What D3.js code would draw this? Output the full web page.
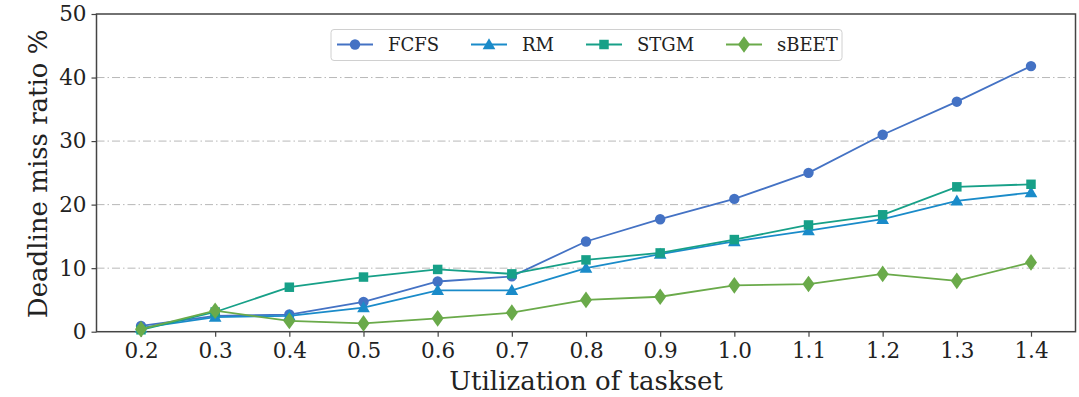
<!DOCTYPE html>
<html>
<head>
<meta charset="utf-8">
<script src="https://cdn.jsdelivr.net/npm/d3@7/dist/d3.min.js"></script>
<style>
  html, body { margin: 0; padding: 0; background: #fff; }
  svg { display: block; }
  text { font-family: "DejaVu Serif", serif; fill: #222; }
</style>
</head>
<body>
<svg id="chart" width="1079" height="397"></svg>
<script>
// Utilization levels of the tasksets (x axis)
const utilization = [0.2, 0.3, 0.4, 0.5, 0.6, 0.7, 0.8, 0.9, 1.0, 1.1, 1.2, 1.3, 1.4];
const xTickLabels = ["0.2", "0.3", "0.4", "0.5", "0.6", "0.7", "0.8", "0.9", "1.0", "1.1", "1.2", "1.3", "1.4"];
const yTicks = [0, 10, 20, 30, 40, 50];

// Deadline miss ratio (%) per scheduler
const fcfs  = [0.9, 2.5, 2.7, 4.7, 7.9, 8.7, 14.2, 17.7, 20.9, 25.0, 31.0, 36.2, 41.8];
const rm    = [0.6, 2.3, 2.5, 3.8, 6.5, 6.5, 10.0, 12.2, 14.2, 15.9, 17.7, 20.6, 21.9];
const stgm  = [0.3, 3.1, 7.0, 8.6, 9.8, 9.1, 11.3, 12.4, 14.5, 16.8, 18.4, 22.8, 23.2];
const sbeet = [0.4, 3.3, 1.7, 1.3, 2.1, 3.0, 5.0, 5.5, 7.3, 7.5, 9.1, 8.0, 10.9];

const seriesNames = ["FCFS", "RM", "STGM", "sBEET"];
const seriesValues = [fcfs, rm, stgm, sbeet];
const colors = ["#4472c4", "#1a8bc9", "#17a088", "#6aaa4a"];
const markers = ["circle", "triangle", "square", "diamond"];

const svg = d3.select("#chart");
const margin = { left: 96.5, right: 1075.5, top: 14, bottom: 331.7 };

const x = d3.scaleLinear().domain([0.14, 1.46]).range([margin.left, margin.right]);
const y = d3.scaleLinear().domain([0, 50]).range([margin.bottom, margin.top]);

// Horizontal dash-dot grid
svg.append("g")
  .selectAll("line")
  .data([10, 20, 30, 40])
  .join("line")
  .attr("x1", margin.left).attr("x2", margin.right)
  .attr("y1", d => y(d)).attr("y2", d => y(d))
  .attr("stroke", "#b8b8b8")
  .attr("stroke-width", 1)
  .attr("stroke-dasharray", "8,3,1.5,3");

// Axes
const xAxis = d3.axisBottom(x)
  .tickValues(utilization)
  .tickFormat((d, i) => xTickLabels[i])
  .tickSize(5).tickPadding(6);
const yAxis = d3.axisLeft(y)
  .tickValues(yTicks)
  .tickFormat(d3.format("d"))
  .tickSize(5).tickPadding(5);

const gx = svg.append("g").attr("transform", `translate(0,${margin.bottom})`).call(xAxis);
const gy = svg.append("g").attr("transform", `translate(${margin.left},0)`).call(yAxis);
[gx, gy].forEach(g => {
  g.select(".domain").remove();
  g.selectAll(".tick line").attr("stroke", "#444").attr("stroke-width", 1.2);
  g.selectAll(".tick text")
    .attr("font-family", "DejaVu Serif, serif")
    .attr("font-size", 21.5)
    .attr("fill", "#222");
});

// Plot frame
svg.append("rect")
  .attr("x", margin.left).attr("y", margin.top)
  .attr("width", margin.right - margin.left)
  .attr("height", margin.bottom - margin.top)
  .attr("fill", "none")
  .attr("stroke", "#444")
  .attr("stroke-width", 1.5);

// Axis titles
svg.append("text")
  .attr("x", (margin.left + margin.right) / 2)
  .attr("y", 390)
  .attr("text-anchor", "middle")
  .attr("font-size", 26)
  .text("Utilization of taskset");

svg.append("text")
  .attr("transform", `translate(47,${(margin.top + margin.bottom) / 2 + 1}) rotate(-90)`)
  .attr("text-anchor", "middle")
  .attr("font-size", 26)
  .text("Deadline miss ratio %");

// Marker shapes
function markerPath(kind, size) {
  const sym = {
    circle: d3.symbolCircle,
    triangle: d3.symbolTriangle,
    square: d3.symbolSquare,
    diamond: d3.symbolDiamond
  }[kind];
  return d3.symbol().type(sym).size(size)();
}
const markerSize = { circle: 85, triangle: 70, square: 90, diamond: 80 };

const line = d3.line().x((d, i) => x(utilization[i])).y(d => y(d));

seriesValues.forEach((vals, s) => {
  const g = svg.append("g");
  g.append("path")
    .datum(vals)
    .attr("d", line)
    .attr("fill", "none")
    .attr("stroke", colors[s])
    .attr("stroke-width", 1.8);
  g.selectAll("path.m")
    .data(vals)
    .join("path")
    .attr("class", "m")
    .attr("d", markerPath(markers[s], markerSize[markers[s]]))
    .attr("transform", (d, i) => {
      const dx = x(utilization[i]);
      const dy = y(d) + (markers[s] === "triangle" ? 1 : 0);
      return markers[s] === "diamond"
        ? `translate(${dx},${dy}) scale(1.25,1)`
        : `translate(${dx},${dy})`;
    })
    .attr("fill", colors[s]);
});

// Legend
const legend = svg.append("g");
legend.append("rect")
  .attr("x", 331).attr("y", 29.5)
  .attr("width", 511).attr("height", 31)
  .attr("rx", 3)
  .attr("fill", "#fff")
  .attr("fill-opacity", 0.85)
  .attr("stroke", "#d0d0d0")
  .attr("stroke-width", 1);

const legendX = [337, 471, 586, 726];
seriesNames.forEach((name, s) => {
  const lx = legendX[s];
  const ly = 44.5;
  legend.append("line")
    .attr("x1", lx).attr("x2", lx + 36)
    .attr("y1", ly).attr("y2", ly)
    .attr("stroke", colors[s]).attr("stroke-width", 1.8);
  legend.append("path")
    .attr("d", markerPath(markers[s], markerSize[markers[s]]))
    .attr("transform", markers[s] === "diamond"
      ? `translate(${lx + 18},${ly}) scale(1.25,1)`
      : `translate(${lx + 18},${ly + (markers[s] === "triangle" ? 1 : 0)})`)
    .attr("fill", colors[s]);
  legend.append("text")
    .attr("x", lx + 51)
    .attr("y", ly + 6.5)
    .attr("font-size", 18)
    .text(name);
});
</script>
</body>
</html>
